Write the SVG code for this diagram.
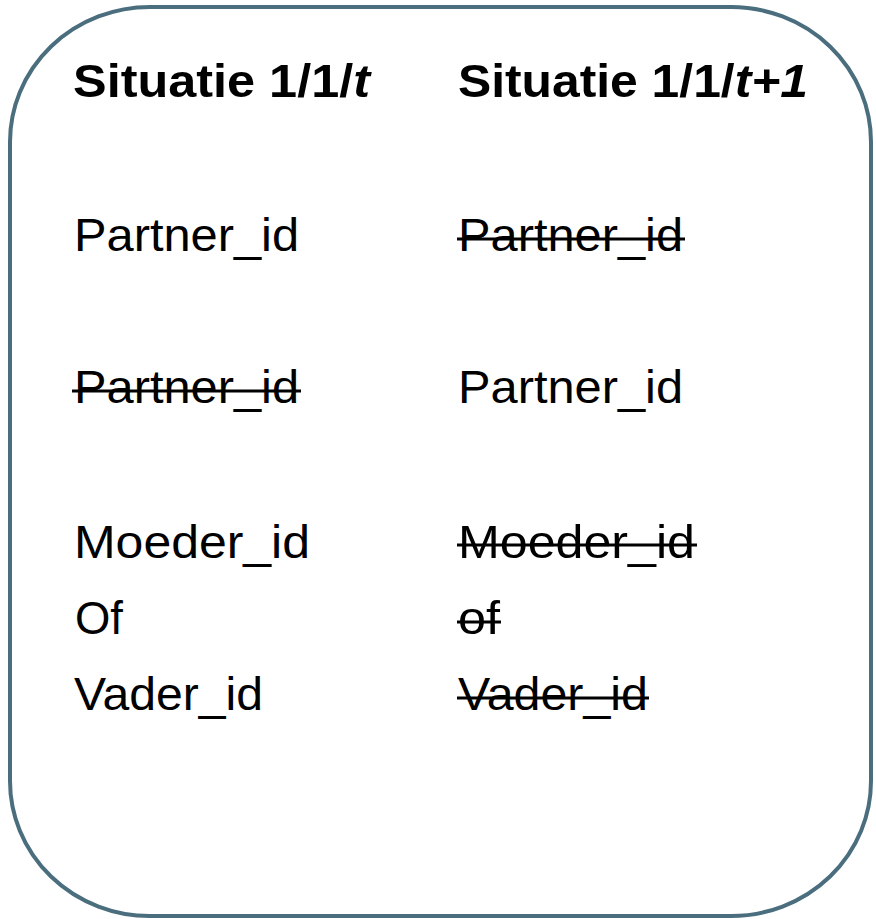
<svg xmlns="http://www.w3.org/2000/svg" width="876" height="919" viewBox="0 0 876 919">
<style>
.box{fill:#ffffff;stroke:#4b6e7e;stroke-width:4}
.h{font-family:"Liberation Sans",Arial,sans-serif;font-size:47px;font-weight:bold;fill:#000}
.t{font-family:"Liberation Sans",Arial,sans-serif;font-size:46px;fill:#000}
.it{font-style:italic}
.strike{stroke:#000;stroke-width:3}
</style>
<rect width="876" height="919" fill="#ffffff"/>
<g id="frame">
<rect class="box" x="10" y="7" width="861" height="909" rx="140" ry="135"/>
</g>
<g id="col-left">
<text class="h" x="73" y="97" textLength="297" lengthAdjust="spacingAndGlyphs">Situatie 1/1/<tspan class="it">t</tspan></text>
<text class="t" x="74" y="251" textLength="225" lengthAdjust="spacingAndGlyphs">Partner_id</text>
<text class="t" x="74" y="403" textLength="225" lengthAdjust="spacingAndGlyphs">Partner_id</text>
<text class="t" x="74" y="558" textLength="236" lengthAdjust="spacingAndGlyphs">Moeder_id</text>
<text class="t" x="75" y="634" textLength="48" lengthAdjust="spacingAndGlyphs">Of</text>
<text class="t" x="74" y="710" textLength="189" lengthAdjust="spacingAndGlyphs">Vader_id</text>
</g>
<g id="col-right">
<text class="h" x="458" y="97" textLength="350" lengthAdjust="spacingAndGlyphs">Situatie 1/1/<tspan class="it">t+1</tspan></text>
<text class="t" x="458" y="251" textLength="225" lengthAdjust="spacingAndGlyphs">Partner_id</text>
<text class="t" x="458" y="403" textLength="225" lengthAdjust="spacingAndGlyphs">Partner_id</text>
<text class="t" x="458" y="558" textLength="237" lengthAdjust="spacingAndGlyphs">Moeder_id</text>
<text class="t" x="458" y="634" textLength="42" lengthAdjust="spacingAndGlyphs">of</text>
<text class="t" x="458" y="710" textLength="190" lengthAdjust="spacingAndGlyphs">Vader_id</text>
</g>
<g id="strikes">
<line class="strike" x1="457" y1="239" x2="685" y2="239"/>
<line class="strike" x1="72" y1="391" x2="301" y2="391"/>
<line class="strike" x1="457" y1="545" x2="697" y2="545"/>
<line class="strike" x1="457" y1="622" x2="501" y2="622"/>
<line class="strike" x1="457" y1="698" x2="649" y2="698"/>
</g>
</svg>
